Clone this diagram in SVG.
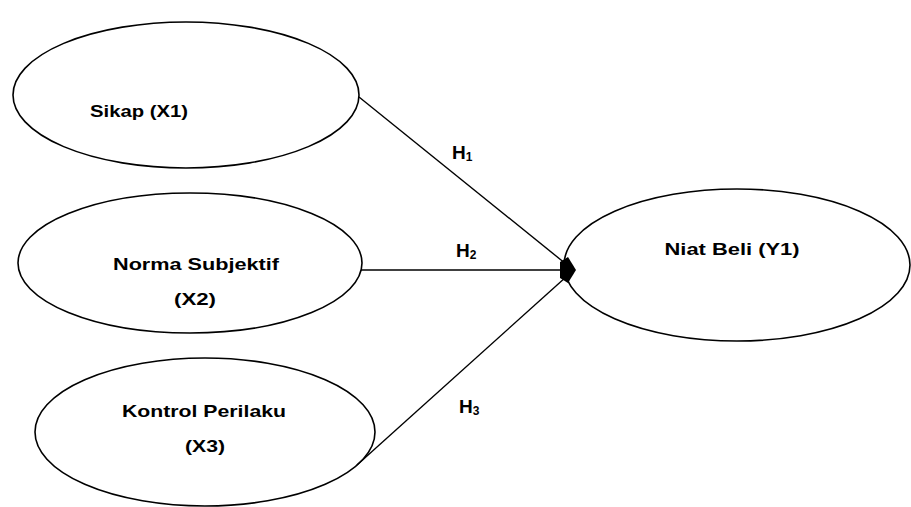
<svg xmlns="http://www.w3.org/2000/svg" width="911" height="507" viewBox="0 0 911 507">
<style>
.node ellipse{fill:#fff;stroke:#000;stroke-width:1.6}
.lbl{font-family:"Liberation Sans",Arial,sans-serif;font-weight:bold;font-size:17px;fill:#000;text-anchor:middle}
.h{font-family:"Liberation Sans",Arial,sans-serif;font-weight:bold;font-size:19px;fill:#000}
.sub{font-size:12px}
.conn line{stroke:#000;stroke-width:1.4}
</style>
<rect width="911" height="507" fill="#fff"/>
<g id="x1" class="node">
<ellipse cx="186" cy="95" rx="173" ry="73"/>
<text class="lbl" x="139" y="117" textLength="98" lengthAdjust="spacingAndGlyphs">Sikap (X1)</text>
</g>
<g id="x2" class="node">
<ellipse cx="190" cy="263" rx="172" ry="70"/>
<text class="lbl" x="196" y="270" textLength="166" lengthAdjust="spacingAndGlyphs">Norma Subjektif</text>
<text class="lbl" x="195" y="305" textLength="42" lengthAdjust="spacingAndGlyphs">(X2)</text>
</g>
<g id="x3" class="node">
<ellipse cx="205" cy="432" rx="170" ry="74"/>
<text class="lbl" x="204" y="417" textLength="164" lengthAdjust="spacingAndGlyphs">Kontrol Perilaku</text>
<text class="lbl" x="205" y="452" textLength="40" lengthAdjust="spacingAndGlyphs">(X3)</text>
</g>
<g id="y1" class="node">
<ellipse cx="737" cy="265" rx="173" ry="76"/>
<text class="lbl" x="732" y="255" textLength="135" lengthAdjust="spacingAndGlyphs">Niat Beli (Y1)</text>
</g>
<g id="connectors" class="conn">
<line x1="359" y1="97" x2="566" y2="264"/>
<line x1="361" y1="270" x2="566" y2="270"/>
<line x1="357" y1="465" x2="566" y2="277"/>
<polygon points="560,262 568,257 576,270 568,283 560,278" fill="#000"/>
<text class="h" x="452" y="159">H<tspan class="sub" dy="2">1</tspan></text>
<text class="h" x="456" y="257">H<tspan class="sub" dy="2">2</tspan></text>
<text class="h" x="459" y="413">H<tspan class="sub" dy="2">3</tspan></text>
</g>
</svg>
